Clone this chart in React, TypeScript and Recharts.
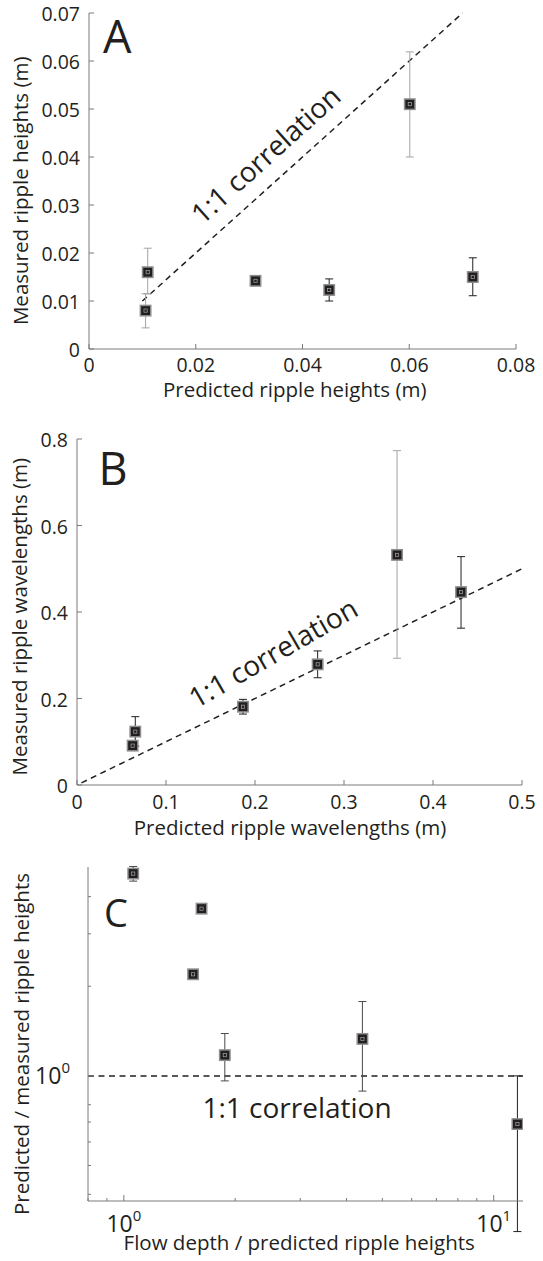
import type { ReactNode } from 'react';
import { ScatterChart, Scatter, XAxis, YAxis, ErrorBar, ReferenceLine } from 'recharts';

const FONT = '"Open Sans", "Noto Sans", sans-serif';
const INK = '#231f20';
const FRAME = '#7a7a7a';
const SHADES: Record<string, string> = { gray: '#a3a3a3', mid: '#4a4a4a', dark: '#231f20' };

// Panel A: ripple heights (m)
const predHeightA = [0.0106, 0.011, 0.0312, 0.045, 0.0601, 0.0719];
const measHeightA = [0.008, 0.016, 0.0142, 0.0123, 0.051, 0.015];
const lowHeightA = [0.0044, 0.0115, 0.0136, 0.01, 0.04, 0.0111];
const highHeightA = [0.0115, 0.021, 0.0148, 0.0146, 0.0619, 0.019];
const shadeA = ['gray', 'gray', 'dark', 'dark', 'gray', 'dark'];
const xTicksA = [0, 0.02, 0.04, 0.06, 0.08];
const yTicksA = [0, 0.01, 0.02, 0.03, 0.04, 0.05, 0.06, 0.07];
const oneToOneA = [0.01, 0.07];

// Panel B: ripple wavelengths (m)
const predLengthB = [0.0625, 0.0655, 0.1865, 0.2704, 0.3596, 0.4315];
const measLengthB = [0.091, 0.1234, 0.181, 0.279, 0.532, 0.446];
const lowLengthB = [0.082, 0.09, 0.164, 0.248, 0.293, 0.3626];
const highLengthB = [0.1, 0.158, 0.198, 0.31, 0.773, 0.528];
const shadeB = ['gray', 'dark', 'dark', 'dark', 'gray', 'dark'];
const xTicksB = [0, 0.1, 0.2, 0.3, 0.4, 0.5];
const yTicksB = [0, 0.2, 0.4, 0.6, 0.8];
const oneToOneB = [0.005, 0.5];

// Panel C: flow depth / predicted height vs predicted / measured height (log-log)
const depthRatioC = [1.06, 1.622, 1.539, 1.875, 4.416, 11.59];
const heightRatioC = [4.78, 3.645, 2.194, 1.174, 1.331, 0.689];
const lowRatioC = [4.51, 3.52, 2.16, 0.962, 0.889, 0.3];
const highRatioC = [5.05, 3.76, 2.23, 1.388, 1.777, 1.0];
const shadeC = ['mid', 'mid', 'mid', 'mid', 'mid', 'dark'];
const xTicksC = [0.8, 0.9, 1, 2, 3, 4, 5, 6, 7, 8, 9, 10];
const yTicksC = [0.4, 0.5, 0.6, 0.7, 0.8, 1, 2, 3, 4];
const majorC = [1, 10];

type Row = { x: number; y: number; err: [number, number]; shade: string };

function buildRows(xs: number[], ys: number[], lo: number[], hi: number[], shade: string[]): Row[] {
  return xs.map((x, i) => ({ x, y: ys[i], err: [ys[i] - lo[i], hi[i] - ys[i]], shade: shade[i] }));
}

const rowsA = buildRows(predHeightA, measHeightA, lowHeightA, highHeightA, shadeA);
const rowsB = buildRows(predLengthB, measLengthB, lowLengthB, highLengthB, shadeB);
const rowsC = buildRows(depthRatioC, heightRatioC, lowRatioC, highRatioC, shadeC);

const Marker = (props: any) => {
  const { cx, cy } = props;
  if (cx == null || cy == null) return null;
  return (
    <g>
      <rect x={cx - 5.2} y={cy - 5.2} width={10.4} height={10.4} fill={INK} stroke="#8e8e8e" strokeWidth={1.5} />
      <rect x={cx - 1.6} y={cy - 1.6} width={3.2} height={3.2} fill="none" stroke="#a8a8a8" strokeWidth={0.7} />
    </g>
  );
};

type Fmt = ((v: number) => ReactNode) | null;

const bottomTick = (fmt: Fmt, len: (v: number) => number, gap: number, size: number) => (p: any) => (
  <g>
    <line x1={p.x} x2={p.x} y1={p.y} y2={p.y - len(p.payload.value)} stroke={FRAME} />
    {fmt && (
      <text x={p.x} y={p.y + gap} textAnchor="middle" fontSize={size} fontFamily={FONT} fill={INK}>
        {fmt(p.payload.value)}
      </text>
    )}
  </g>
);

const topTick = (len: (v: number) => number) => (p: any) => (
  <line x1={p.x} x2={p.x} y1={p.y} y2={p.y + len(p.payload.value)} stroke={FRAME} />
);

const leftTick = (fmt: Fmt, len: (v: number) => number, gap: number, size: number) => (p: any) => (
  <g>
    <line x1={p.x} x2={p.x + len(p.payload.value)} y1={p.y} y2={p.y} stroke={FRAME} />
    {fmt && (
      <text x={p.x - gap} y={p.y + 8} textAnchor="end" fontSize={size} fontFamily={FONT} fill={INK}>
        {fmt(p.payload.value)}
      </text>
    )}
  </g>
);

const rightTick = (len: (v: number) => number) => (p: any) => (
  <line x1={p.x} x2={p.x - len(p.payload.value)} y1={p.y} y2={p.y} stroke={FRAME} />
);

const fmt2 = (v: number) => (v === 0 ? '0' : v.toFixed(2));
const fmt1 = (v: number) => (v === 0 ? '0' : v.toFixed(1));
const fmtPow = (v: number) =>
  majorC.includes(v) ? (
    <>
      <tspan>10</tspan>
      <tspan dy={-11} fontSize={15}>
        {Math.round(Math.log10(v))}
      </tspan>
    </>
  ) : null;
const fullLen = () => 5;
const logLen = (v: number) => (majorC.includes(v) ? 6 : 3);

type PanelProps = {
  top: number;
  height: number;
  margin: { top: number; right: number; bottom: number; left: number };
  yWidth: number;
  xHeight: number;
  xDomain: [number, number];
  yDomain: [number, number];
  xTicks: number[];
  yTicks: number[];
  log?: boolean;
  xFmt: Fmt;
  yFmt: Fmt;
  xGap: number;
  yGap: number;
  tickFont: number;
  rows: Row[];
  children?: ReactNode;
};

function Panel(props: PanelProps) {
  const { log, rows } = props;
  const len = log ? logLen : fullLen;
  const scale = log ? 'log' : 'auto';
  const groups = Object.keys(SHADES).filter((s) => rows.some((r) => r.shade === s));
  const axisLine = { stroke: FRAME, strokeWidth: 1 };
  return (
    <div style={{ position: 'absolute', left: 0, top: props.top }}>
      <ScatterChart width={543} height={props.height} margin={props.margin}>
        <XAxis
          dataKey="x"
          type="number"
          scale={scale}
          domain={props.xDomain}
          ticks={props.xTicks}
          interval={0}
          allowDataOverflow
          height={props.xHeight}
          tickLine={false}
          tickSize={0}
          tickMargin={0}
          axisLine={axisLine}
          tick={bottomTick(props.xFmt, len, props.xGap, props.tickFont)}
        />
        <XAxis
          xAxisId="top"
          orientation="top"
          type="number"
          scale={scale}
          domain={props.xDomain}
          ticks={props.xTicks}
          interval={0}
          allowDataOverflow
          height={0}
          tickLine={false}
          tickSize={0}
          tickMargin={0}
          axisLine={axisLine}
          tick={topTick(len)}
        />
        <YAxis
          dataKey="y"
          type="number"
          scale={scale}
          domain={props.yDomain}
          ticks={props.yTicks}
          interval={0}
          allowDataOverflow
          width={props.yWidth}
          tickLine={false}
          tickSize={0}
          tickMargin={0}
          axisLine={axisLine}
          tick={leftTick(props.yFmt, len, props.yGap, props.tickFont)}
        />
        <YAxis
          yAxisId="right"
          orientation="right"
          type="number"
          scale={scale}
          domain={props.yDomain}
          ticks={props.yTicks}
          interval={0}
          allowDataOverflow
          width={0}
          tickLine={false}
          tickSize={0}
          tickMargin={0}
          axisLine={axisLine}
          tick={rightTick(len)}
        />
        {props.children}
        {groups.map((s) => (
          <Scatter
            key={s}
            data={rows.filter((r) => r.shade === s)}
            shape={Marker}
            isAnimationActive={false}
          >
            <ErrorBar dataKey="err" direction="y" width={4} stroke={SHADES[s]} strokeWidth={1} />
          </Scatter>
        ))}
      </ScatterChart>
    </div>
  );
}

const txt = { fontFamily: FONT, fill: INK };
const dash = { stroke: INK, strokeWidth: 1.5, strokeDasharray: '6 4.5' };

export default function App() {
  return (
    <div style={{ position: 'absolute', left: 0, top: 0, width: 543, height: 1261, background: '#fff' }}>
      <Panel
        top={0}
        height={420}
        margin={{ top: 13, right: 27, bottom: 0, left: 0 }}
        yWidth={89}
        xHeight={71}
        xDomain={[0, 0.08]}
        yDomain={[0, 0.07]}
        xTicks={xTicksA}
        yTicks={yTicksA}
        xFmt={fmt2}
        yFmt={fmt2}
        xGap={23}
        yGap={9}
        tickFont={19.5}
        rows={rowsA}
      >
        <ReferenceLine
          segment={[
            { x: oneToOneA[0], y: oneToOneA[0] },
            { x: oneToOneA[1], y: oneToOneA[1] },
          ]}
          {...dash}
        />
        <text x={103} y={53} fontSize={45} {...txt}>A</text>
        <text x={266} y={155} dy="0.35em" textAnchor="middle" fontSize={28} transform="rotate(-42 266 155)" {...txt}>
          1:1 correlation
        </text>
        <text x={294.7} y={397} textAnchor="middle" fontSize={20.5} {...txt}>
          Predicted ripple heights (m)
        </text>
        <text x={28.5} y={190.8} textAnchor="middle" fontSize={20.5} transform="rotate(-90 28.5 190.8)" {...txt}>
          Measured ripple heights (m)
        </text>
      </Panel>

      <Panel
        top={420}
        height={420}
        margin={{ top: 19, right: 21, bottom: 0, left: 0 }}
        yWidth={77}
        xHeight={55}
        xDomain={[0, 0.5]}
        yDomain={[0, 0.8]}
        xTicks={xTicksB}
        yTicks={yTicksB}
        xFmt={fmt1}
        yFmt={fmt1}
        xGap={23.5}
        yGap={9}
        tickFont={19.5}
        rows={rowsB}
      >
        <ReferenceLine
          segment={[
            { x: oneToOneB[0], y: oneToOneB[0] },
            { x: oneToOneB[1], y: oneToOneB[1] },
          ]}
          {...dash}
        />
        <text x={98.5} y={65} fontSize={45} {...txt}>B</text>
        <text x={273.3} y={233.3} dy="0.35em" textAnchor="middle" fontSize={28} transform="rotate(-30 273.3 233.3)" {...txt}>
          1:1 correlation
        </text>
        <text x={290} y={414.5} textAnchor="middle" fontSize={20.5} {...txt}>
          Predicted ripple wavelengths (m)
        </text>
        <text x={27.5} y={196.7} textAnchor="middle" fontSize={20.5} transform="rotate(-90 27.5 196.7)" {...txt}>
          Measured ripple wavelengths (m)
        </text>
      </Panel>

      <Panel
        top={840}
        height={421}
        margin={{ top: 27, right: 20, bottom: 0, left: 0 }}
        yWidth={88}
        xHeight={60}
        xDomain={[0.8, 12]}
        yDomain={[0.38, 5.03]}
        xTicks={xTicksC}
        yTicks={yTicksC}
        log
        xFmt={fmtPow}
        yFmt={fmtPow}
        xGap={31}
        yGap={18}
        tickFont={23}
        rows={rowsC}
      >
        <ReferenceLine y={1} {...dash} />
        <text x={104} y={86.7} fontSize={38} {...txt}>C</text>
        <text x={297} y={278.3} textAnchor="middle" fontSize={28} {...txt}>
          1:1 correlation
        </text>
        <text x={299.2} y={409.5} textAnchor="middle" fontSize={20.5} {...txt}>
          Flow depth / predicted ripple heights
        </text>
        <text x={28.5} y={204} textAnchor="middle" fontSize={20.5} transform="rotate(-90 28.5 204)" {...txt}>
          Predicted / measured ripple heights
        </text>
      </Panel>
    </div>
  );
}
